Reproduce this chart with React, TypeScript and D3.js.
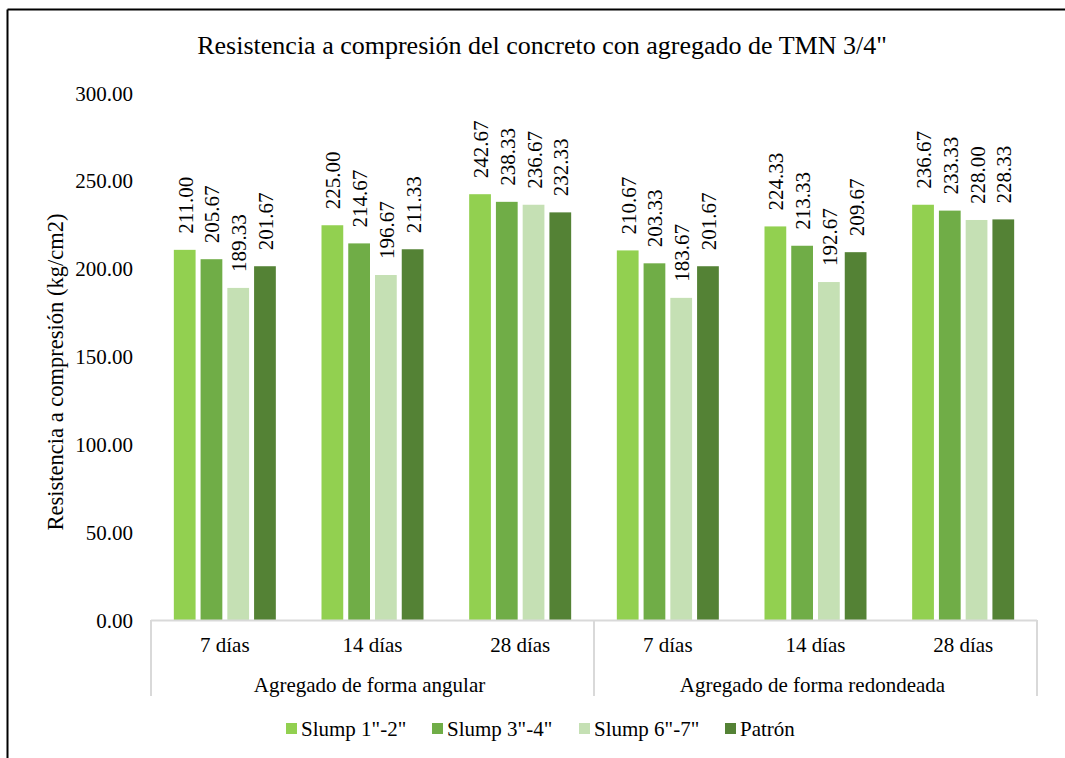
import React from "react";
import * as d3 from "d3";

const groups = ["Agregado de forma angular", "Agregado de forma redondeada"];
const ages = ["7 días", "14 días", "28 días"];
const seriesNames = ['Slump 1"-2"', 'Slump 3"-4"', 'Slump 6"-7"', "Patrón"];
const seriesColors = ["#92d050", "#70ad47", "#c5e0b4", "#548235"];
// values per series, order: angular 7/14/28, redondeada 7/14/28
const slump12 = [211.0, 225.0, 242.67, 210.67, 224.33, 236.67];
const slump34 = [205.67, 214.67, 238.33, 203.33, 213.33, 233.33];
const slump67 = [189.33, 196.67, 236.67, 183.67, 192.67, 228.0];
const patron = [201.67, 211.33, 232.33, 201.67, 209.67, 228.33];
const yTicks = [0, 50, 100, 150, 200, 250, 300];

const W = 1065;
const H = 758;
const FONT = "Liberation Serif";
const ts = { fontFamily: FONT };

export default function App() {
  const series = [slump12, slump34, slump67, patron];
  const cats = groups.flatMap((g) => ages.map((a) => `${g}|${a}`));
  const left = 151;
  const right = 1037;
  const y = d3.scaleLinear().domain([0, 300]).range([620.5, 93.5]);
  const x0 = d3.scaleBand<string>().domain(cats).range([left, right]).padding(0);
  const cw = x0.bandwidth();
  const clusterW = 107;
  const pad = (cw - clusterW) / 2;
  const x1 = d3.scaleBand<number>().domain([0, 1, 2, 3]).range([pad, pad + clusterW]).padding(0);
  const gap = 5;
  const groupW = (right - left) / groups.length;

  const legendX = [286, 432, 579, 725];

  return (
    <svg width={W} height={H} style={{ position: "absolute", left: 0, top: 0, background: "#fff" }}>
      <rect x={0} y={0} width={W} height={H} fill="#fff" />
      {/* frame */}
      <line x1={7.5} y1={9.5} x2={W} y2={9.5} stroke="#000" strokeWidth={2} />
      <line x1={7.5} y1={9.5} x2={7.5} y2={H} stroke="#000" strokeWidth={2} />

      <text x={542} y={54} textAnchor="middle" fontSize={26} fill="#000" style={ts}>
        Resistencia a compresión del concreto con agregado de TMN 3/4"
      </text>

      {/* y tick labels */}
      {yTicks.map((t) => (
        <text key={t} x={133} y={y(t)} textAnchor="end" dominantBaseline="central" fontSize={21} fill="#000" style={ts}>
          {t.toFixed(2)}
        </text>
      ))}
      <text
        transform={`translate(55,${372}) rotate(-90)`}
        textAnchor="middle"
        dominantBaseline="central"
        fontSize={22.5}
        fill="#000"
        style={ts}
      >
        Resistencia a compresión (kg/cm2)
      </text>

      {/* bars */}
      {series.map((vals, si) =>
        vals.map((v, ci) => {
          const bx = (x0(cats[ci]) as number) + (x1(si) as number) + gap / 2;
          const bw = x1.bandwidth() - gap;
          return (
            <g key={`${si}-${ci}`}>
              <rect x={bx} y={y(v)} width={bw} height={y(0) - y(v)} fill={seriesColors[si]} />
              <text
                transform={`translate(${bx + bw / 2 + 1},${y(v) - 16}) rotate(-90)`}
                textAnchor="start"
                dominantBaseline="central"
                fontSize={21}
                fill="#000"
                style={ts}
              >
                {v.toFixed(2)}
              </text>
            </g>
          );
        })
      )}

      {/* category axis */}
      <line x1={left} y1={620.5} x2={right} y2={620.5} stroke="#d9d9d9" strokeWidth={2} />
      {[0, 1, 2].map((i) => (
        <line key={i} x1={left + i * groupW} y1={620} x2={left + i * groupW} y2={696} stroke="#d9d9d9" strokeWidth={2} />
      ))}
      {cats.map((c) => (
        <text key={c} x={(x0(c) as number) + cw / 2} y={645} textAnchor="middle" dominantBaseline="central" fontSize={21} fill="#000" style={ts}>
          {c.split("|")[1]}
        </text>
      ))}
      {groups.map((g, i) => (
        <text key={g} x={left + groupW * (i + 0.5) - 3} y={685} textAnchor="middle" dominantBaseline="central" fontSize={21} fill="#000" style={ts}>
          {g}
        </text>
      ))}

      {/* legend */}
      {seriesNames.map((n, i) => (
        <g key={n}>
          <rect x={legendX[i]} y={723} width={11} height={11} fill={seriesColors[i]} />
          <text x={legendX[i] + 15} y={729} dominantBaseline="central" fontSize={21} fill="#000" style={ts}>
            {n}
          </text>
        </g>
      ))}
    </svg>
  );
}
